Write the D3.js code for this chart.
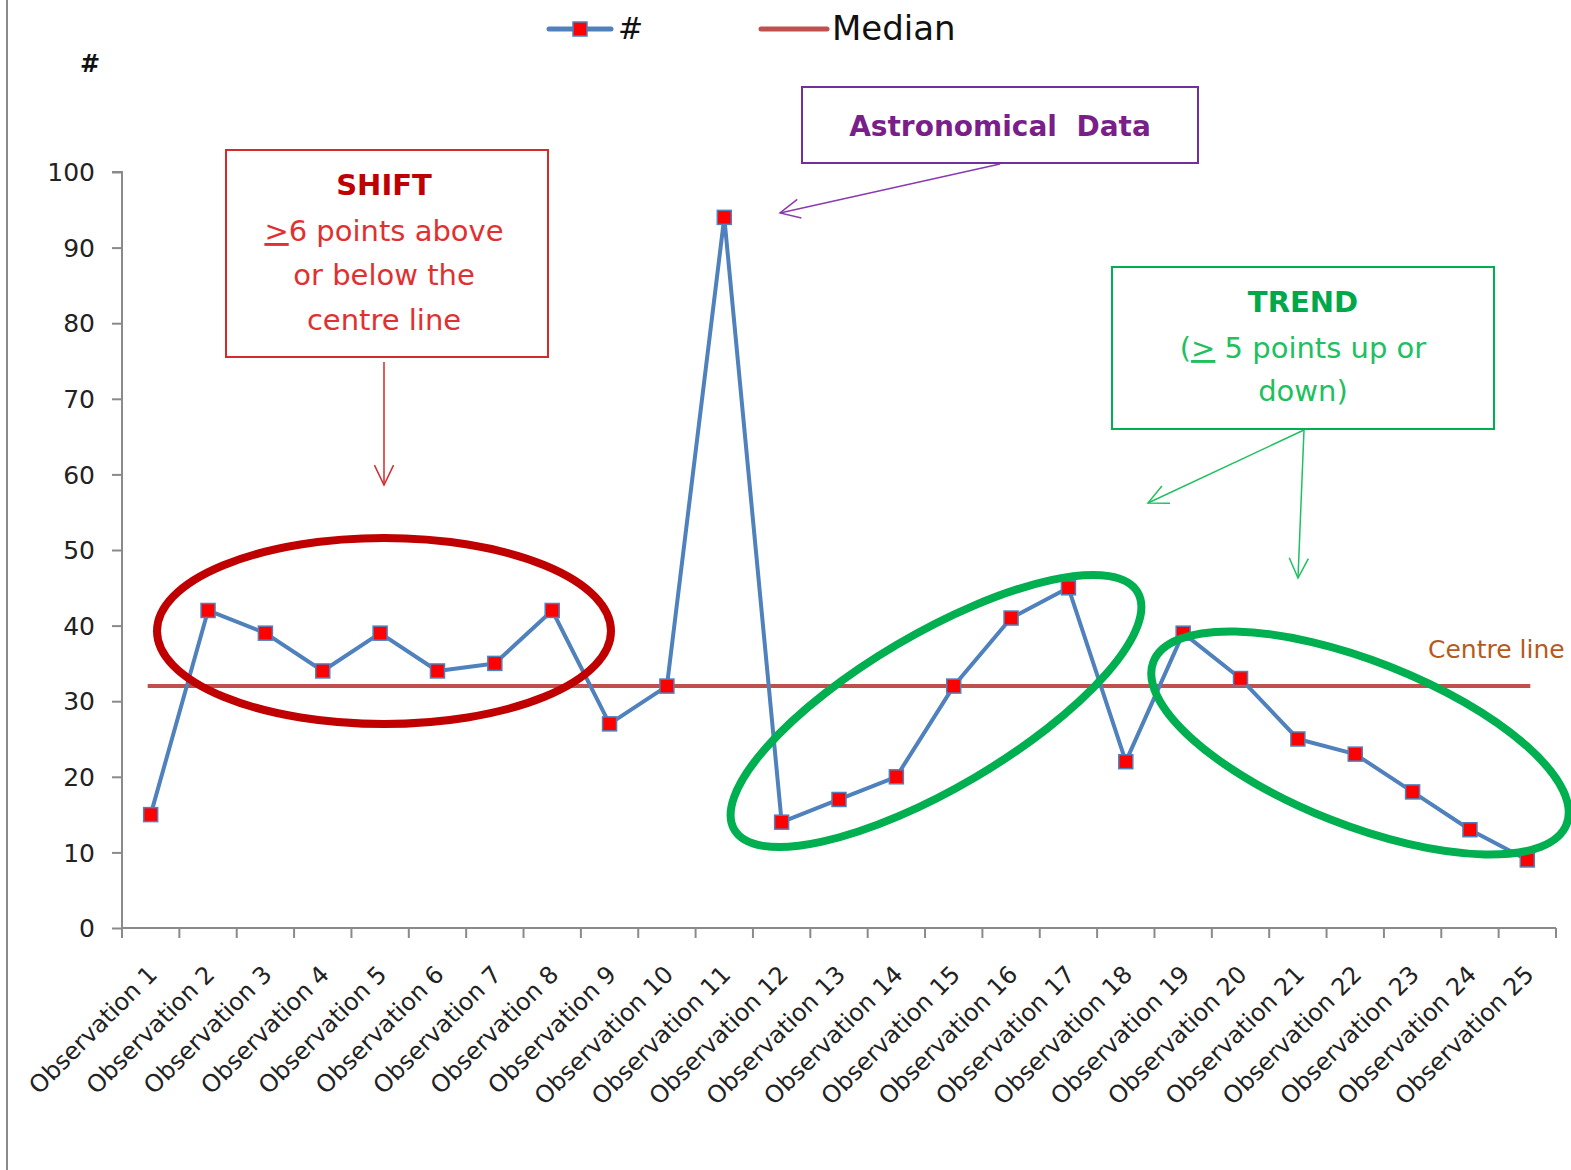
<!DOCTYPE html>
<html><head><meta charset="utf-8">
<script src="https://cdn.jsdelivr.net/npm/d3@7"></script>
<style>
html,body{margin:0;padding:0;background:#fff;}
svg{display:block;font-family:"DejaVu Sans",Verdana,sans-serif;}
</style></head>
<body>
<svg id="chart" width="1571" height="1170"></svg>
<script>
const categories = Array.from({length:25},(_,i)=>"Observation "+(i+1));
const values = [15,42,39,34,39,34,35,42,27,32,94,14,17,20,32,41,45,22,39,33,25,23,18,13,9];
const medianValue = 32;
const yTicks = [0,10,20,30,40,50,60,70,80,90,100];

(function(){
const svg = d3.select("#chart");
const pLeft=122, pRight=1556, pTop=172, pBottom=928;

const x = d3.scaleBand().domain(categories).range([pLeft,pRight]).padding(0);
const y = d3.scaleLinear().domain([0,100]).range([pBottom,pTop]);
const cx = d => x(d)+x.bandwidth()/2;

// left frame line
svg.append("line").attr("x1",7).attr("x2",7).attr("y1",0).attr("y2",1170)
  .attr("stroke","#8a8a8a").attr("stroke-width",2);

// Y axis
const yAxis = svg.append("g").attr("transform",`translate(${pLeft},0)`)
  .call(d3.axisLeft(y).tickValues(yTicks).tickSize(10).tickPadding(17));
yAxis.select(".domain").attr("stroke","#8a8a8a").attr("stroke-width",2).attr("d",`M-10,${pTop}H0V${pBottom}`);
yAxis.selectAll(".tick line").attr("stroke","#8a8a8a").attr("stroke-width",2);
yAxis.selectAll(".tick text").attr("font-size",25).attr("fill","#222").attr("font-family","DejaVu Sans").attr("dy","0.35em");

// X axis
const xAxis = svg.append("g").attr("transform",`translate(0,${pBottom})`)
  .call(d3.axisBottom(x).tickSize(0).tickFormat(""));
xAxis.select(".domain").attr("stroke","#8a8a8a").attr("stroke-width",2).attr("d",`M${pLeft},0H${pRight}`);
const bounds = categories.map(c=>x(c)).concat([pRight]);
xAxis.selectAll(".bnd").data(bounds).join("line").attr("class","bnd")
  .attr("x1",d=>d).attr("x2",d=>d).attr("y1",0).attr("y2",10)
  .attr("stroke","#8a8a8a").attr("stroke-width",2);
xAxis.selectAll(".lbl").data(categories).join("text").attr("class","lbl")
  .attr("transform",d=>`translate(${cx(d)-4},${36}) rotate(-45)`)
  .attr("text-anchor","end").attr("font-size",24).attr("fill","#222")
  .attr("font-family","DejaVu Sans")
  .attr("dy","0.7em").text(d=>d);

// axis title
svg.append("text").attr("x",90).attr("y",72).attr("text-anchor","middle")
  .attr("font-size",24).attr("font-weight","bold").attr("fill","#111").text("#");

// Median line
svg.append("line").attr("x1",cx(categories[0])-3).attr("x2",cx(categories[24])+3)
  .attr("y1",y(medianValue)).attr("y2",y(medianValue))
  .attr("stroke","#c0504d").attr("stroke-width",4);

// Series
const line = d3.line().x((d,i)=>cx(categories[i])).y(d=>y(d));
svg.append("path").datum(values).attr("d",line).attr("fill","none")
  .attr("stroke","#4f81bd").attr("stroke-width",4).attr("stroke-linejoin","round");
svg.selectAll(".mk").data(values).join("rect").attr("class","mk")
  .attr("x",(d,i)=>cx(categories[i])-7).attr("y",d=>y(d)-7)
  .attr("width",14).attr("height",14).attr("fill","#ff0000")
  .attr("stroke","#4f81bd").attr("stroke-width",1.5);

// Centre line label
svg.append("text").attr("x",1428).attr("y",658).attr("font-size",25)
  .attr("fill","#b65a1e").text("Centre line");

// Ellipses
svg.append("ellipse").attr("cx",384).attr("cy",631).attr("rx",227).attr("ry",93)
  .attr("fill","none").attr("stroke","#c00000").attr("stroke-width",8);
svg.append("ellipse").attr("transform","translate(936,711) rotate(-30.5)")
  .attr("rx",234).attr("ry",77).attr("fill","none").attr("stroke","#00b050").attr("stroke-width",8);
svg.append("ellipse").attr("transform","translate(1360,743) rotate(21.5)")
  .attr("rx",222).attr("ry",82).attr("fill","none").attr("stroke","#00b050").attr("stroke-width",8);

// Legend
const lg = svg.append("g");
lg.append("line").attr("x1",549).attr("x2",611).attr("y1",29).attr("y2",29)
  .attr("stroke","#4f81bd").attr("stroke-width",5).attr("stroke-linecap","round");
lg.append("rect").attr("x",573).attr("y",22).attr("width",14).attr("height",14)
  .attr("fill","#ff0000").attr("stroke","#4f81bd").attr("stroke-width",1.5);
lg.append("text").attr("x",618).attr("y",39).attr("font-size",30).attr("fill","#111").text("#");
lg.append("line").attr("x1",761).attr("x2",827).attr("y1",29).attr("y2",29)
  .attr("stroke","#c0504d").attr("stroke-width",5).attr("stroke-linecap","round");
lg.append("text").attr("x",832).attr("y",40).attr("font-size",34).attr("fill","#111").text("Median");

function arrow(x1,y1,x2,y2,color){
  svg.append("line").attr("x1",x1).attr("y1",y1).attr("x2",x2).attr("y2",y2)
    .attr("stroke",color).attr("stroke-width",1.5);
  const a=Math.atan2(y2-y1,x2-x1), L=22, s=0.45;
  const p=[[x2-L*Math.cos(a-s),y2-L*Math.sin(a-s)],[x2,y2],[x2-L*Math.cos(a+s),y2-L*Math.sin(a+s)]];
  svg.append("path").attr("d","M"+p.map(q=>q.join(",")).join("L")).attr("fill","none")
    .attr("stroke",color).attr("stroke-width",1.5);
}

// SHIFT box
svg.append("rect").attr("x",226).attr("y",150).attr("width",322).attr("height",207)
  .attr("fill","#fff").attr("stroke","#d42a2a").attr("stroke-width",2);
svg.append("text").attr("x",384).attr("y",195).attr("text-anchor","middle")
  .attr("font-size",29).attr("font-weight","bold").attr("fill","#c00000").text("SHIFT");
const s1 = svg.append("text").attr("x",384).attr("y",241).attr("text-anchor","middle")
  .attr("font-size",29).attr("fill","#e03030");
s1.append("tspan").attr("text-decoration","underline").text(">");
s1.append("tspan").text("6 points above");
svg.append("text").attr("x",384).attr("y",285).attr("text-anchor","middle")
  .attr("font-size",29).attr("fill","#e03030").text("or below the");
svg.append("text").attr("x",384).attr("y",330).attr("text-anchor","middle")
  .attr("font-size",29).attr("fill","#e03030").text("centre line");
arrow(384,362,384,485,"#d42a2a");

// Astronomical box
svg.append("rect").attr("x",802).attr("y",87).attr("width",396).attr("height",76)
  .attr("fill","#fff").attr("stroke","#7030a0").attr("stroke-width",2);
svg.append("text").attr("x",1000).attr("y",136).attr("text-anchor","middle")
  .attr("font-size",28).attr("font-weight","bold").attr("fill","#7a1f8a")
  .attr("xml:space","preserve").text("Astronomical  Data");
arrow(1000,164,780,213,"#8a3ab0");

// TREND box
svg.append("rect").attr("x",1112).attr("y",267).attr("width",382).attr("height",162)
  .attr("fill","#fff").attr("stroke","#00b050").attr("stroke-width",2);
svg.append("text").attr("x",1303).attr("y",312).attr("text-anchor","middle")
  .attr("font-size",29).attr("font-weight","bold").attr("fill","#00a84a").text("TREND");
const t1 = svg.append("text").attr("x",1303).attr("y",358).attr("text-anchor","middle")
  .attr("font-size",29).attr("fill","#20c060");
t1.append("tspan").text("(");
t1.append("tspan").attr("text-decoration","underline").text(">");
t1.append("tspan").text(" 5 points up or");
svg.append("text").attr("x",1303).attr("y",401).attr("text-anchor","middle")
  .attr("font-size",29).attr("fill","#20c060").text("down)");
arrow(1304,430,1148,503,"#20c060");
arrow(1304,430,1298,578,"#20c060");
})();
</script>
</body></html>
